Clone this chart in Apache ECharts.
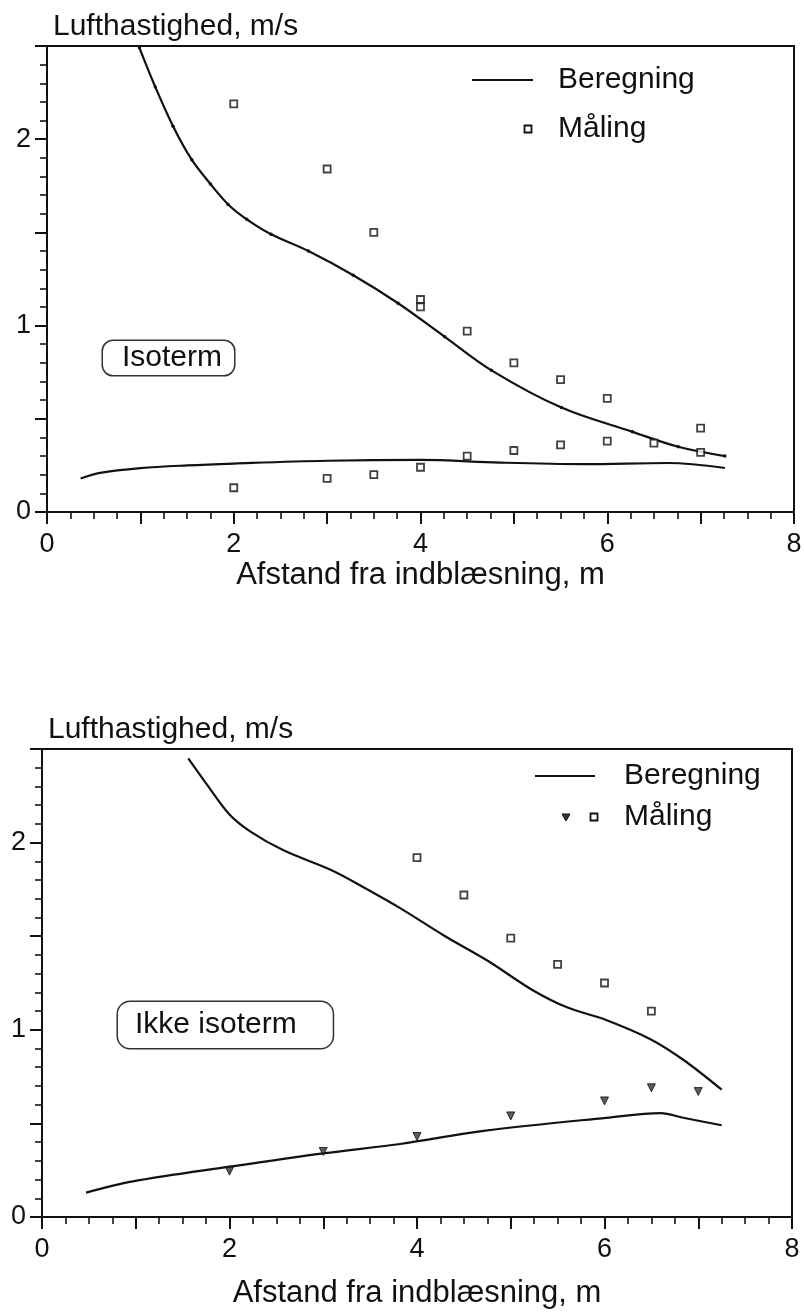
<!DOCTYPE html>
<html>
<head>
<meta charset="utf-8">
<script src="https://cdn.jsdelivr.net/npm/echarts@6/dist/echarts.min.js"></script>
<style>
  html, body { margin: 0; padding: 0; background: #fff; }
  #chart { width: 804px; height: 1312px; }
</style>
</head>
<body>
<div id="chart"></div>
<script>
// Øverste diagram (isoterm)
const topCalcHighX = [0.99, 1.16, 1.35, 1.55, 1.75, 1.94, 2.14, 2.40, 2.80, 3.28, 3.76, 4.26, 4.76, 5.51, 6.27, 6.76, 7.26];
const topCalcHighY = [2.49, 2.28, 2.07, 1.89, 1.76, 1.65, 1.57, 1.49, 1.40, 1.27, 1.12, 0.94, 0.76, 0.56, 0.43, 0.35, 0.30];
const topCalcLowX = [0.36, 0.57, 1.0, 1.5, 2.0, 3.0, 4.0, 4.85, 5.75, 6.65, 7.26];
const topCalcLowY = [0.18, 0.21, 0.235, 0.25, 0.26, 0.275, 0.28, 0.265, 0.257, 0.263, 0.236];
const topMeasX = [2.0, 3.0, 3.5, 4.0, 4.0, 4.5, 5.0, 5.5, 6.0, 7.0, 2.0, 3.0, 3.5, 4.0, 4.5, 5.0, 5.5, 6.0, 6.5, 7.0];
const topMeasY = [2.19, 1.84, 1.50, 1.14, 1.10, 0.97, 0.80, 0.71, 0.61, 0.45, 0.13, 0.18, 0.20, 0.24, 0.30, 0.33, 0.36, 0.38, 0.37, 0.32];

// Nederste diagram (ikke isoterm)
const botCalcHighX = [1.56, 1.76, 2.0, 2.22, 2.57, 3.1, 3.47, 3.82, 4.3, 4.75, 5.24, 5.6, 6.03, 6.49, 6.84, 7.25];
const botCalcHighY = [2.45, 2.31, 2.15, 2.06, 1.96, 1.85, 1.75, 1.65, 1.50, 1.37, 1.21, 1.12, 1.05, 0.95, 0.84, 0.68];
const botCalcLowX = [0.47, 0.97, 2.02, 3.0, 3.82, 4.71, 6.02, 6.6, 6.84, 7.25];
const botCalcLowY = [0.13, 0.19, 0.27, 0.34, 0.39, 0.46, 0.53, 0.555, 0.53, 0.49];
const botSquareX = [4.0, 4.5, 5.0, 5.5, 6.0, 6.5];
const botSquareY = [1.92, 1.72, 1.49, 1.35, 1.25, 1.10];
const botTriX = [2.0, 3.0, 4.0, 5.0, 6.0, 6.5, 7.0];
const botTriY = [0.245, 0.35, 0.43, 0.54, 0.62, 0.69, 0.67];

const xTickLabels = [0, 2, 4, 6, 8];
const yTickLabels = [0, 1, 2];
const xName = 'Afstand fra indblæsning, m';
const yName = 'Lufthastighed, m/s';

const FONT = '"Liberation Sans", Arial, sans-serif';
const INK = '#111';

const pairs = (xs, ys) => xs.map((x, i) => [x, ys[i]]);

const chart = echarts.init(document.getElementById('chart'));

function makeX(gridIndex, nameGap) {
    return {
        gridIndex: gridIndex,
        type: 'value',
        min: 0,
        max: 8,
        interval: 1,
        name: xName,
        nameLocation: 'middle',
        nameGap: nameGap,
        nameTextStyle: { fontFamily: FONT, fontSize: 31, color: INK },
        axisLine: { lineStyle: { color: INK, width: 2 } },
        axisTick: { length: 12, lineStyle: { color: INK, width: 2 } },
        minorTick: { show: true, splitNumber: 4, length: 7, lineStyle: { color: INK, width: 1.6 } },
        axisLabel: {
            margin: 19,
            fontFamily: FONT,
            fontSize: 27,
            color: INK,
            formatter: v => (xTickLabels.indexOf(v) >= 0 ? String(v) : '')
        },
        splitLine: { show: false },
        minorSplitLine: { show: false }
    };
}

function makeY(gridIndex) {
    return {
        gridIndex: gridIndex,
        type: 'value',
        position: 'left',
        min: 0,
        max: 2.5,
        interval: 0.5,
        name: yName,
        nameLocation: 'end',
        nameGap: 4,
        nameTextStyle: { fontFamily: FONT, fontSize: 30, color: INK, align: 'left', padding: [0, 0, 0, 6] },
        axisLine: { show: true, lineStyle: { color: INK, width: 2 } },
        axisTick: { show: true, length: 12, lineStyle: { color: INK, width: 2 } },
        minorTick: { show: true, splitNumber: 5, length: 7, lineStyle: { color: INK, width: 1.6 } },
        axisLabel: {
            margin: 16,
            fontFamily: FONT,
            fontSize: 27,
            color: INK,
            formatter: v => (yTickLabels.indexOf(v) >= 0 ? String(v) : '')
        },
        splitLine: { show: false },
        minorSplitLine: { show: false }
    };
}

const lineBase = {
    type: 'line',
    smooth: 0.35,
    showSymbol: false,
    lineStyle: { color: INK, width: 2.2 },
    itemStyle: { color: INK },
    z: 3
};

const squareStyle = { color: '#fff', borderColor: INK, borderWidth: 1.8 };

const option = {
    backgroundColor: '#fff',
    animation: false,
    grid: [
        { left: 47, top: 46, width: 747, height: 466, outerBoundsMode: 'none', containLabel: false, show: true, borderColor: INK, borderWidth: 2 },
        { left: 42, top: 749, width: 750, height: 468, outerBoundsMode: 'none', containLabel: false, show: true, borderColor: INK, borderWidth: 2 }
    ],
    xAxis: [makeX(0, 48), makeX(1, 61)],
    yAxis: [makeY(0), makeY(1)],
    series: [
        Object.assign({}, lineBase, {
            name: 'Beregning',
            xAxisIndex: 0, yAxisIndex: 0,
            showSymbol: true,
            symbol: 'circle',
            symbolSize: 3.5,
            data: pairs(topCalcHighX, topCalcHighY)
        }),
        Object.assign({}, lineBase, {
            name: 'Beregning',
            xAxisIndex: 0, yAxisIndex: 0,
            data: pairs(topCalcLowX, topCalcLowY)
        }),
        {
            name: 'Måling',
            type: 'scatter',
            xAxisIndex: 0, yAxisIndex: 0,
            symbol: 'rect',
            symbolSize: 7,
            itemStyle: squareStyle,
            data: pairs(topMeasX, topMeasY),
            z: 4
        },
        Object.assign({}, lineBase, {
            name: 'Beregning',
            xAxisIndex: 1, yAxisIndex: 1,
            data: pairs(botCalcHighX, botCalcHighY)
        }),
        Object.assign({}, lineBase, {
            name: 'Beregning',
            xAxisIndex: 1, yAxisIndex: 1,
            data: pairs(botCalcLowX, botCalcLowY)
        }),
        {
            name: 'Måling',
            type: 'scatter',
            xAxisIndex: 1, yAxisIndex: 1,
            symbol: 'rect',
            symbolSize: 7,
            itemStyle: squareStyle,
            data: pairs(botSquareX, botSquareY),
            z: 4
        },
        {
            name: 'Måling',
            type: 'scatter',
            xAxisIndex: 1, yAxisIndex: 1,
            symbol: 'triangle',
            symbolRotate: 180,
            symbolSize: 8,
            itemStyle: { color: '#333', borderColor: INK, borderWidth: 1 },
            data: pairs(botTriX, botTriY),
            z: 4
        }
    ],
    graphic: [
        // forklaring, øverst
        { type: 'line', shape: { x1: 472, y1: 80, x2: 533, y2: 80 }, style: { stroke: INK, lineWidth: 1.8 } },
        { type: 'text', x: 558, y: 80, style: { text: 'Beregning', font: '30px ' + FONT, fill: INK, verticalAlign: 'middle' } },
        { type: 'rect', shape: { x: 524.5, y: 125.5, width: 7, height: 7 }, style: { fill: '#fff', stroke: INK, lineWidth: 1.8 } },
        { type: 'text', x: 558, y: 129, style: { text: 'Måling', font: '30px ' + FONT, fill: INK, verticalAlign: 'middle' } },
        // forklaring, nederst
        { type: 'line', shape: { x1: 535, y1: 776, x2: 595, y2: 776 }, style: { stroke: INK, lineWidth: 1.8 } },
        { type: 'text', x: 624, y: 776, style: { text: 'Beregning', font: '30px ' + FONT, fill: INK, verticalAlign: 'middle' } },
        { type: 'polygon', shape: { points: [[562, 814], [570, 814], [566, 821]] }, style: { fill: '#333', stroke: INK, lineWidth: 1 } },
        { type: 'rect', shape: { x: 590.5, y: 813.5, width: 7, height: 7 }, style: { fill: '#fff', stroke: INK, lineWidth: 1.8 } },
        { type: 'text', x: 624, y: 817, style: { text: 'Måling', font: '30px ' + FONT, fill: INK, verticalAlign: 'middle' } },
        // tekstbokse
        {
            type: 'text', x: 103, y: 341,
            style: {
                text: 'Isoterm', font: '30px ' + FONT, fill: INK,
                padding: [2, 12, 2, 19], borderColor: '#333', borderWidth: 1.5, borderRadius: 10,
                backgroundColor: '#fff'
            }
        },
        {
            type: 'text', x: 118, y: 1002,
            style: {
                text: 'Ikke isoterm', font: '30px ' + FONT, fill: INK,
                padding: [8, 36, 8, 17], borderColor: '#333', borderWidth: 1.5, borderRadius: 12,
                backgroundColor: '#fff'
            }
        }
    ]
};

chart.setOption(option);
</script>
</body>
</html>
